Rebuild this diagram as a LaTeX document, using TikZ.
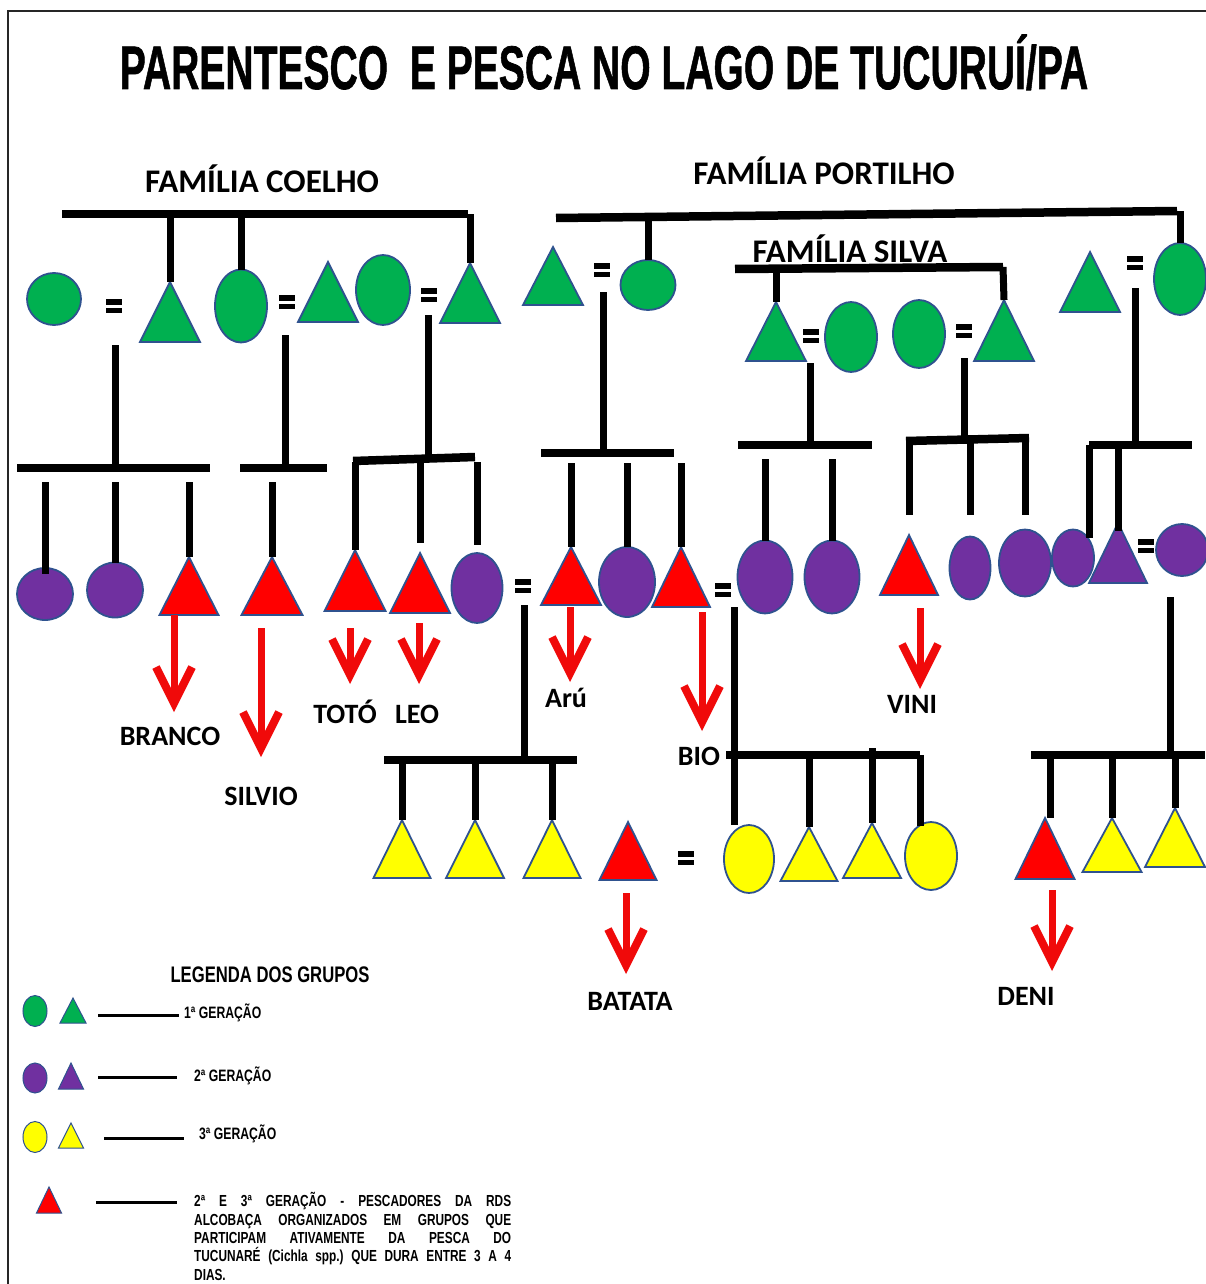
\documentclass[tikz,border=0pt]{standalone}
\usepackage{graphicx}
\usepackage{fontspec}
\setmainfont{Carlito}
\newfontfamily\narrowf[FakeStretch=0.74]{Liberation Sans}
\newfontfamily\titlef[FakeBold=1.2]{Liberation Sans}
\usetikzlibrary{shapes.geometric,arrows.meta,calc}
\definecolor{gen1}{HTML}{00B050}
\definecolor{gen2}{HTML}{7030A0}
\definecolor{gen3}{HTML}{FFFF00}
\definecolor{redp}{HTML}{FF0000}
\definecolor{outl}{HTML}{2F528F}
\definecolor{arrred}{HTML}{F00A0A}
\begin{document}
\begin{tikzpicture}[x=1pt,y=-1pt,
  bar/.style={line width=8.5pt},
  link/.style={line width=7pt},
  lgline/.style={line width=3pt},
  pers/.style={draw=outl, line width=1.8pt, inner sep=0pt, outer sep=0pt},
  fem/.style={pers, ellipse},
  masc/.style={pers, isosceles triangle, isosceles triangle stretches, shape border rotate=90, anchor=apex},
  sz/.style 2 args={minimum width=#1pt, minimum height=#2pt},
  famlab/.style={font=\bfseries\fontsize{33}{36}\selectfont, anchor=base, inner sep=0pt},
  namelab/.style={font=\bfseries\fontsize{28}{30}\selectfont, anchor=base, inner sep=0pt},
  lgtext/.style={font=\narrowf\bfseries\fontsize{16.5}{18.7}\selectfont, anchor=base west, inner sep=0pt},
  redarr/.style={draw=arrred, line width=7pt, -{Straight Barb[length=36pt, width=36pt, line width=8pt]}},
  eqpic/.pic={\fill (-8,-7) rectangle (8,-1.5); \fill (-8,1.5) rectangle (8,7);}
]
\fill[white] (0,0) rectangle (1205,1284);
\useasboundingbox (0,0) rectangle (1205,1284);
\draw[line width=2pt, black!85] (8,11) rectangle (1220,1300);

% ---------- titles ----------
\node[font=\titlef\bfseries\fontsize{61.5}{62}\selectfont, anchor=base, inner sep=0pt] (title) at (604,89)
  {\scalebox{0.635}[1]{PARENTESCO\ \ E PESCA NO LAGO DE TUCURUÍ/PA}};
\node[famlab] (fcoelho) at (262,193) {FAMÍLIA COELHO};
\node[famlab] (fportilho) at (824,185) {FAMÍLIA PORTILHO};
\node[famlab] (fsilva) at (850,262) {FAMÍLIA SILVA};

% ---------- generation 1 ----------
\node[fem, fill=gen1, sz={54}{52}] (f1) at (54,299) {};
\pic at (114,306) {eqpic};
\node[masc, fill=gen1, sz={60}{60}] (m1) at (170,282) {};
\node[fem, fill=gen1, sz={52}{73}] (f2) at (241,306) {};
\pic at (287,302) {eqpic};
\node[masc, fill=gen1, sz={60}{60}] (m2) at (328,262) {};
\node[fem, fill=gen1, sz={54}{70}] (f3) at (383,290) {};
\pic at (429,295) {eqpic};
\node[masc, fill=gen1, sz={60}{60}] (m3) at (470,263) {};

\node[masc, fill=gen1, sz={60}{58}] (m4) at (553,247) {};
\pic at (602,270) {eqpic};
\node[fem, fill=gen1, sz={55}{50}] (f4) at (648,285) {};

\node[masc, fill=gen1, sz={60}{59}] (m5) at (776,302) {};
\pic at (811,336) {eqpic};
\node[fem, fill=gen1, sz={52}{70}] (f5) at (851,337) {};
\node[fem, fill=gen1, sz={52}{68}] (f6) at (919,334) {};
\pic at (964,331) {eqpic};
\node[masc, fill=gen1, sz={60}{61}] (m6) at (1004,300) {};

\node[masc, fill=gen1, sz={60}{60}] (m7) at (1090,252) {};
\pic at (1135,263) {eqpic};
\node[fem, fill=gen1, sz={52}{72}] (f7) at (1180,279) {};

% family bars
\coordinate (cbL) at (62,214); \coordinate (cbR) at (468,214);
\draw[bar] (cbL) -- (cbR);
\draw[link] (m1.apex |- cbL) -- (m1.apex);
\draw[link] (f2.north |- cbL) -- (f2.north);
\draw[link] (m3.apex |- cbL) -- (m3.apex);

\coordinate (pbL) at (556,218); \coordinate (pbR) at (1177,211);
\draw[bar] (pbL) -- (pbR);
\draw[link] (f4.north |- pbL) -- (f4.north);
\draw[link] (f7.north |- pbR) -- (f7.north);

\coordinate (sbL) at (735,269); \coordinate (sbR) at (1003,267);
\draw[bar] (sbL) -- (sbR);
\draw[link] (m5.apex |- sbL) -- (m5.apex);
\draw[link] (sbR) -- (m6.apex);

% ---------- generation 2 ----------
\node[fem, fill=gen2, sz={56}{52}] (p1) at (45,594) {};
\node[fem, fill=gen2, sz={56}{55}] (p2) at (115,590) {};
\node[masc, fill=redp, sz={59}{58}] (r1) at (189,557) {};
\node[masc, fill=redp, sz={61}{58}] (r2) at (272,557) {};
\node[masc, fill=redp, sz={61}{61}] (r3) at (355,550) {};
\node[masc, fill=redp, sz={60}{60}] (r4) at (420,553) {};
\node[fem, fill=gen2, sz={51}{70}] (p3) at (477,588) {};
\pic at (523,586) {eqpic};
\node[masc, fill=redp, sz={60}{58}] (r5) at (571,547) {};
\node[fem, fill=gen2, sz={56}{70}] (p4) at (627,582) {};
\node[masc, fill=redp, sz={58}{60}] (r6) at (681,547) {};
\pic at (723,590) {eqpic};
\node[fem, fill=gen2, sz={55}{73}] (p5) at (765,577) {};
\node[fem, fill=gen2, sz={55}{73}] (p6) at (832,577) {};
\node[masc, fill=redp, sz={58}{60}] (r7) at (909,535) {};
\node[fem, fill=gen2, sz={41}{63}] (p7) at (970,568) {};
\node[fem, fill=gen2, sz={52}{67}] (p8) at (1025,563) {};
\node[fem, fill=gen2, sz={42}{57}] (p9) at (1073,558) {};
\node[masc, fill=gen2, sz={58}{60}] (q1) at (1118,523) {};
\pic at (1146,546) {eqpic};
\node[fem, fill=gen2, sz={52}{52}] (p10) at (1182,550) {};

% descents from gen-1 couples
\coordinate (d1) at (115,345);
\coordinate (b1L) at (17,468); \coordinate (b1R) at (210,468); \coordinate (b1s) at (0,482);
\draw[link] (d1) -- (d1 |- b1L);
\draw[bar] (b1L) -- (b1R);
\draw[link] (p1.north |- b1s) -- ([yshift=-6pt]p1.north);
\draw[link] (p2.north |- b1s) -- (p2.north);
\draw[link] (r1.apex |- b1s) -- (r1.apex);

\coordinate (d2) at (285,335);
\coordinate (b2L) at (240,468); \coordinate (b2R) at (327,468); \coordinate (b2s) at (0,482);
\draw[link] (d2) -- (d2 |- b2L);
\draw[bar] (b2L) -- (b2R);
\draw[link] (r2.apex |- b2s) -- (r2.apex);

\coordinate (d3) at (428,315);
\coordinate (b3L) at (353,461); \coordinate (b3R) at (475,457); \coordinate (b3s) at (0,462);
\draw[link] (d3) -- (d3 |- b3R);
\draw[bar] (b3L) -- (b3R);
\draw[link] (r3.apex |- b3s) -- (r3.apex);
\draw[link] (r4.apex |- b3s) -- ([yshift=10pt]r4.apex);
\draw[link] (p3.north |- b3s) -- ([yshift=8pt]p3.north);

\coordinate (d4) at (603,292);
\coordinate (b4L) at (541,453); \coordinate (b4R) at (674,453); \coordinate (b4s) at (0,463);
\draw[link] (d4) -- (d4 |- b4L);
\draw[bar] (b4L) -- (b4R);
\draw[link] (r5.apex |- b4s) -- (r5.apex);
\draw[link] (p4.north |- b4s) -- (p4.north);
\draw[link] (r6.apex |- b4s) -- (r6.apex);

\coordinate (d5) at (810,363);
\coordinate (b5L) at (738,445); \coordinate (b5R) at (872,445); \coordinate (b5s) at (0,459);
\draw[link] (d5) -- (d5 |- b5L);
\draw[bar] (b5L) -- (b5R);
\draw[link] (p5.north |- b5s) -- (p5.north);
\draw[link] (p6.north |- b5s) -- (p6.north);

\coordinate (d6) at (964,358);
\coordinate (b6L) at (906,441); \coordinate (b6R) at (1029,438); \coordinate (b6s) at (0,440);
\draw[link] (d6) -- (d6 |- b6R);
\draw[bar] (b6L) -- (b6R);
\draw[link] (r7.apex |- b6s) -- ([yshift=20pt]r7.apex);
\draw[link] (p7.north |- b6s) -- ([yshift=22pt]p7.north);
\draw[link] (p8.north |- b6s) -- ([yshift=15pt]p8.north);

\coordinate (d7) at (1135,288);
\coordinate (b7L) at (1089,445); \coordinate (b7R) at (1192,445);
\draw[link] (d7) -- (d7 |- b7L);
\draw[bar] (b7L) -- (b7R);
\draw[link] (b7L) -- (b7L |- p9.north east);
\draw[link] (q1.apex |- b7L) -- ([yshift=-8pt]q1.apex);

% ---------- generation 3 ----------
\node[masc, fill=gen3, sz={57}{58}] (y1) at (402,820) {};
\node[masc, fill=gen3, sz={58}{58}] (y2) at (475,820) {};
\node[masc, fill=gen3, sz={57}{58}] (y3) at (552,820) {};
\node[masc, fill=redp, sz={57}{58}] (r8) at (628,822) {};
\pic at (686,858) {eqpic};
\node[fem, fill=gen3, sz={50}{68}] (y4) at (749,859) {};
\node[masc, fill=gen3, sz={57}{54}] (y5) at (809,827) {};
\node[masc, fill=gen3, sz={58}{55}] (y6) at (872,823) {};
\node[fem, fill=gen3, sz={52}{68}] (y7) at (931,856) {};
\node[masc, fill=redp, sz={59}{61}] (r9) at (1045,818) {};
\node[masc, fill=gen3, sz={59}{54}] (y8) at (1112,818) {};
\node[masc, fill=gen3, sz={60}{59}] (y9) at (1175,808) {};

\coordinate (d8) at (524,605);
\coordinate (b8L) at (384,760); \coordinate (b8R) at (577,760);
\draw[link] (d8) -- (d8 |- b8L);
\draw[bar] (b8L) -- (b8R);
\draw[link] (y1.apex |- b8L) -- (y1.apex);
\draw[link] (y2.apex |- b8L) -- (y2.apex);
\draw[link] (y3.apex |- b8L) -- (y3.apex);

\coordinate (d9) at (734,607);
\coordinate (b9L) at (726,755); \coordinate (b9R) at (920,755); \coordinate (b9t) at (0,748);
\draw[link] (d9) -- (d9 |- y4.north);
\draw[bar] (b9L) -- (b9R);
\draw[link] (y5.apex |- b9L) -- (y5.apex);
\draw[link] (y6.apex |- b9t) -- (y6.apex);
\draw[link] (b9R) -- ([yshift=-4pt]b9R |- y7.north);

\coordinate (d10) at (1170,597);
\coordinate (b10L) at (1031,755); \coordinate (b10R) at (1205,755);
\draw[link] (d10) -- (d10 |- b10L);
\draw[bar] (b10L) -- (b10R);
\draw[link] (1050,755) -- ([xshift=5pt]r9.apex);
\draw[link] (y8.apex |- b10L) -- (y8.apex);
\draw[link] (y9.apex |- b10L) -- (y9.apex);

% ---------- name labels ----------
\node[namelab] (lbranco) at (170,745) {BRANCO};
\node[namelab] (lsilvio) at (261,805) {SILVIO};
\node[namelab] (ltoto) at (345,723) {TOTÓ};
\node[namelab] (lleo) at (417,723) {LEO};
\node[namelab] (laru) at (566,707) {Arú};
\node[namelab] (lbio) at (699,765) {BIO};
\node[namelab] (lvini) at (912,713) {VINI};
\node[namelab] (lbatata) at (630,1010) {BATATA};
\node[namelab] (ldeni) at (1026,1005) {DENI};

% ---------- red arrows ----------
\coordinate (a1s) at (174,615);  \coordinate (a1e) at (174,712);
\coordinate (a2s) at (261,628);  \coordinate (a2e) at (261,757);
\coordinate (a3s) at (350,628);  \coordinate (a3e) at (350,684);
\coordinate (a4s) at (419,623);  \coordinate (a4e) at (419,684);
\coordinate (a5s) at (570,607);  \coordinate (a5e) at (570,682);
\coordinate (a6s) at (702,612);  \coordinate (a6e) at (702,731);
\coordinate (a7s) at (920,608);  \coordinate (a7e) at (920,689);
\coordinate (a8s) at (626,893);  \coordinate (a8e) at (626,974);
\coordinate (a9s) at (1052,890); \coordinate (a9e) at (1052,971);
\foreach \i in {1,...,9} {\draw[redarr] (a\i s) -- (a\i e);}

% ---------- legend ----------
\node[font=\narrowf\bfseries\fontsize{22.5}{24}\selectfont, anchor=base, inner sep=0pt] (lgtitle) at (270,982) {LEGENDA DOS GRUPOS};

\node[fem, fill=gen1, sz={24}{31}, line width=1pt] (lc1) at (35,1011) {};
\node[masc, fill=gen1, sz={26}{25}, line width=1pt] (lt1) at (73,998) {};
\coordinate (l1a) at (98,1015); \coordinate (l1b) at (179,1015);
\draw[lgline] (l1a) -- (l1b);
\node[lgtext] (lx1) at (184,1018) {1ª GERAÇÃO};

\node[fem, fill=gen2, sz={24}{30}, line width=1pt] (lc2) at (35,1078) {};
\node[masc, fill=gen2, sz={25}{26}, line width=1pt] (lt2) at (71,1063) {};
\coordinate (l2a) at (98,1077); \coordinate (l2b) at (177,1077);
\draw[lgline] (l2a) -- (l2b);
\node[lgtext] (lx2) at (194,1081) {2ª GERAÇÃO};

\node[fem, fill=gen3, sz={24}{31}, line width=1pt] (lc3) at (35,1137) {};
\node[masc, fill=gen3, sz={25}{25}, line width=1pt] (lt3) at (71,1123) {};
\coordinate (l3a) at (104,1138); \coordinate (l3b) at (184,1138);
\draw[lgline] (l3a) -- (l3b);
\node[lgtext] (lx3) at (199,1139) {3ª GERAÇÃO};

\node[masc, fill=redp, sz={25}{26}, line width=1pt] (lt4) at (49,1187) {};
\coordinate (l4a) at (96,1202); \coordinate (l4b) at (177,1202);
\draw[lgline] (l4a) -- (l4b);
\node[font=\narrowf\bfseries\fontsize{16}{18.3}\selectfont, anchor=base west, inner sep=0pt, align=left] (lx4) at (194,1280)
  {\makebox[317pt][s]{2ª E 3ª GERAÇÃO - PESCADORES DA RDS}\\
   \makebox[317pt][s]{ALCOBAÇA ORGANIZADOS EM GRUPOS QUE}\\
   \makebox[317pt][s]{PARTICIPAM ATIVAMENTE DA PESCA DO}\\
   \makebox[317pt][s]{TUCUNARÉ (Cichla spp.)\ QUE DURA ENTRE 3 A 4}\\
   DIAS.};
\end{tikzpicture}
\end{document}
